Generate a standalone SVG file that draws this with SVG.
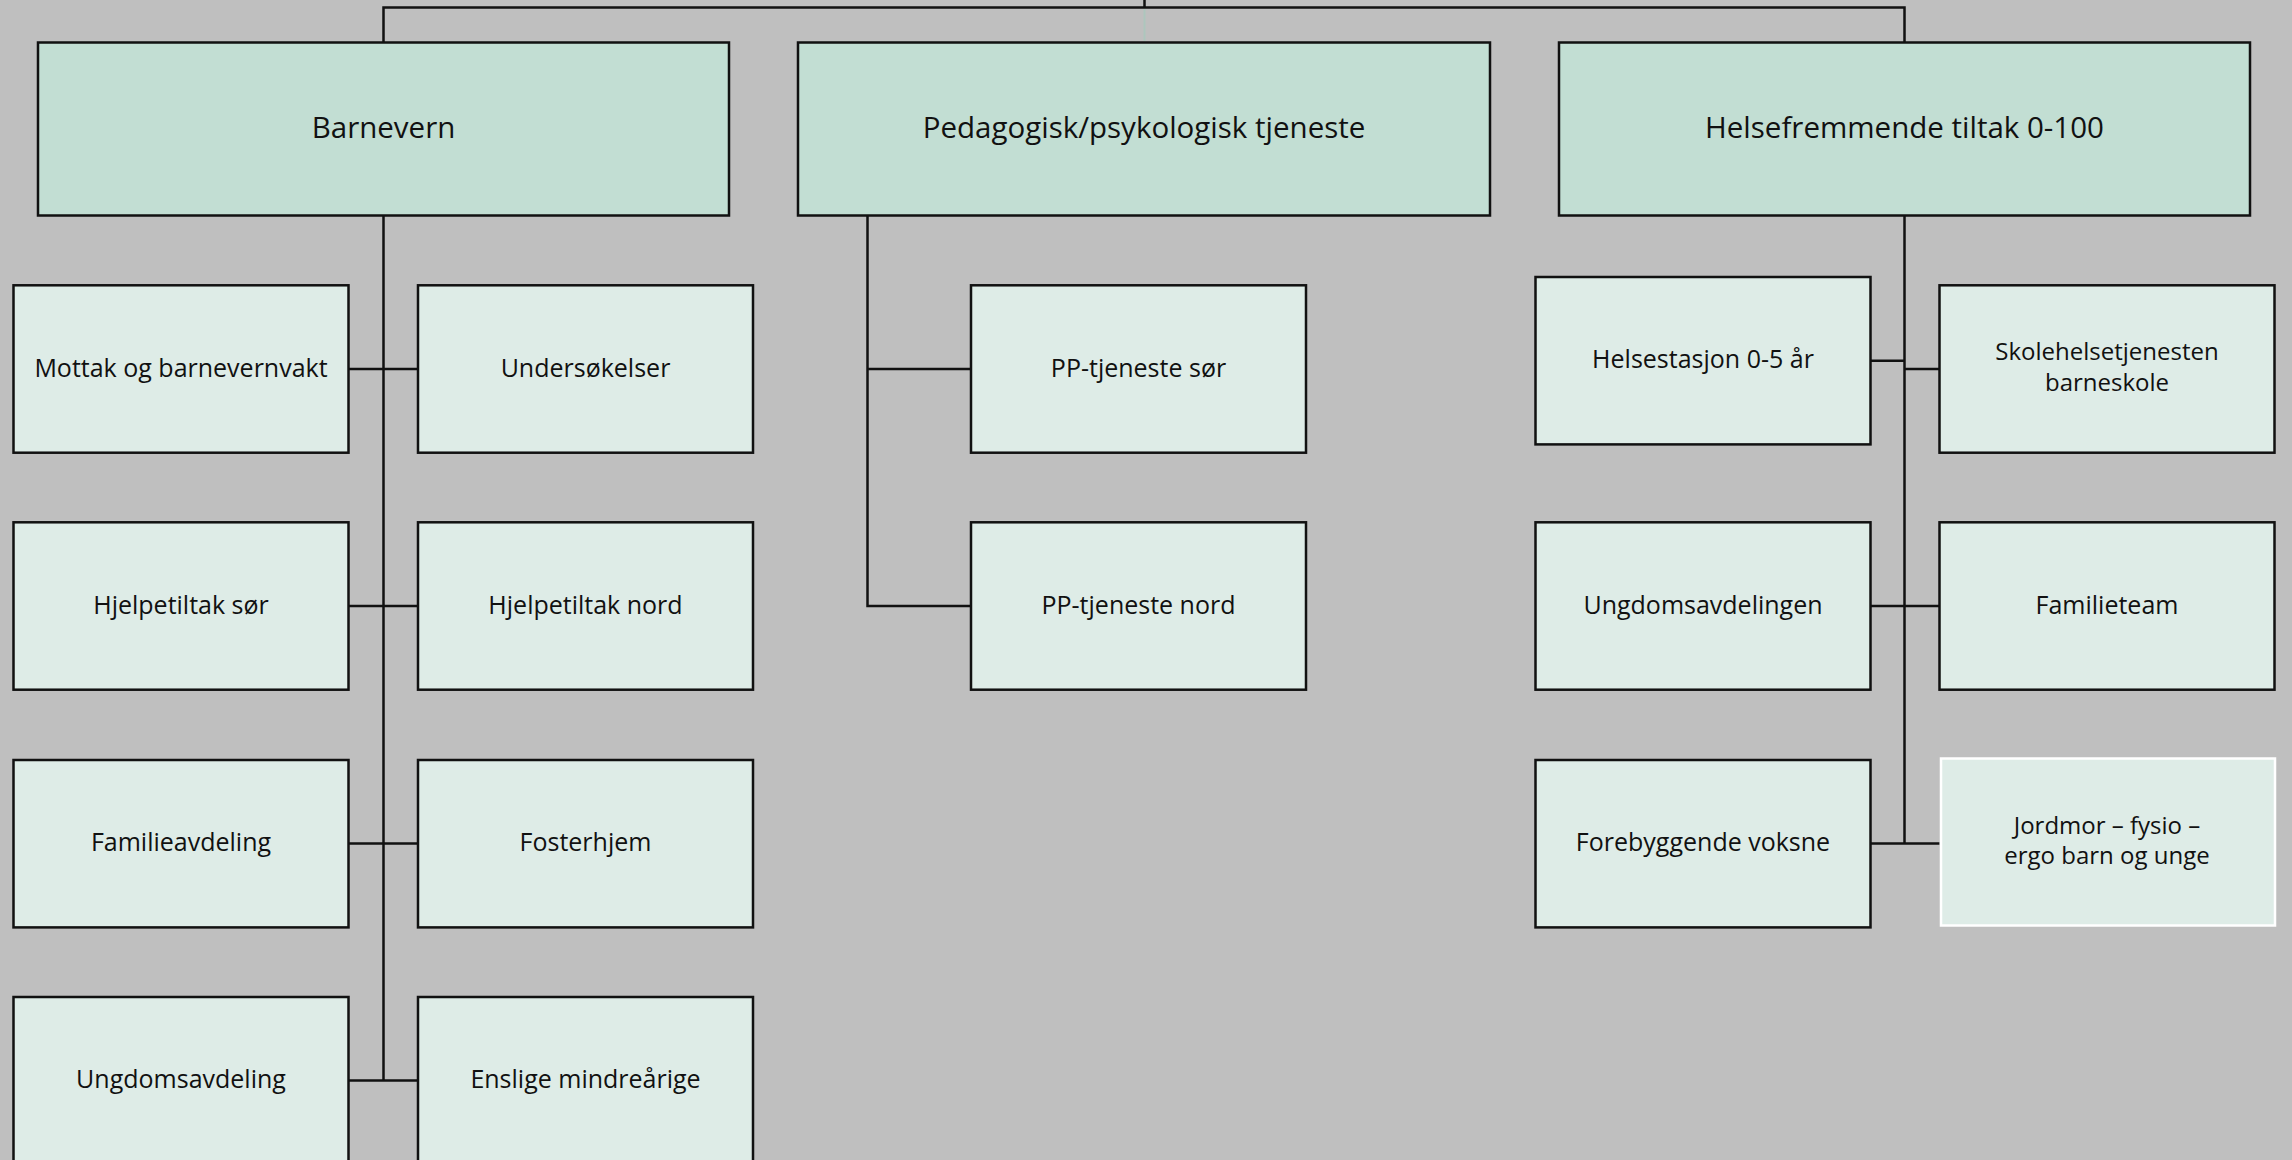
<svg xmlns="http://www.w3.org/2000/svg" width="2292" height="1160" viewBox="0 0 2292 1160">
<style>
.bg{fill:#bfbfbf}
.hd{fill:#c2ded3;stroke:#111;stroke-width:2.5}
.bx{fill:#deece7;stroke:#111;stroke-width:2.5}
.bxw{fill:#deece7;stroke:#ffffff;stroke-width:2.5}
.ln{fill:none;stroke:#111;stroke-width:2.5}
.faint{fill:none;stroke:#adc6bd;stroke-width:2}
text{font-family:"Open Sans","Noto Sans",sans-serif;fill:#111;text-anchor:middle}
.ht{font-size:29.5px}
.st{font-size:25px}
.st2{font-size:24px}
</style>
<rect class="bg" x="0" y="0" width="2292" height="1160"/>
<g id="connectors">
<path class="ln" d="M383.5 42.5 V7.5 H1904.5 V42.5"/>
<path class="ln" d="M1144.5 0 V7.5"/>
<path class="faint" d="M1144.5 9 V41"/>
<path class="ln" d="M383.5 215.5 V1080.5"/>
<path class="ln" d="M348.5 369 H418"/>
<path class="ln" d="M348.5 606 H418"/>
<path class="ln" d="M348.5 843.5 H418"/>
<path class="ln" d="M348.5 1080.5 H418"/>
<path class="ln" d="M867.5 215.5 V606 H971"/>
<path class="ln" d="M867.5 369 H971"/>
<path class="ln" d="M1904.5 215.5 V843.5"/>
<path class="ln" d="M1870.5 360.7 H1904.5"/>
<path class="ln" d="M1904.5 369 H1939.5"/>
<path class="ln" d="M1870.5 606 H1939.5"/>
<path class="ln" d="M1870.5 843.5 H1939.5"/>
</g>
<g id="barnevern"><rect class="hd" x="38" y="42.5" width="691" height="173"/><text class="ht" x="383.5" y="138">Barnevern</text></g>
<g id="ppt"><rect class="hd" x="798" y="42.5" width="692" height="173"/><text class="ht" x="1144" y="138">Pedagogisk/psykologisk tjeneste</text></g>
<g id="helse"><rect class="hd" x="1559" y="42.5" width="691" height="173"/><text class="ht" x="1904.5" y="138">Helsefremmende tiltak 0-100</text></g>

<g id="mottak"><rect class="bx" x="13.5" y="285.3" width="335" height="167.4"/><text class="st" x="181" y="376.5">Mottak og barnevernvakt</text></g>
<g id="undersokelser"><rect class="bx" x="418" y="285.3" width="335" height="167.4"/><text class="st" x="585.5" y="376.5">Undersøkelser</text></g>
<g id="hjelp-sor"><rect class="bx" x="13.5" y="522.3" width="335" height="167.4"/><text class="st" x="181" y="613.5">Hjelpetiltak sør</text></g>
<g id="hjelp-nord"><rect class="bx" x="418" y="522.3" width="335" height="167.4"/><text class="st" x="585.5" y="613.5">Hjelpetiltak nord</text></g>
<g id="familieavdeling"><rect class="bx" x="13.5" y="760" width="335" height="167.4"/><text class="st" x="181" y="851">Familieavdeling</text></g>
<g id="fosterhjem"><rect class="bx" x="418" y="760" width="335" height="167.4"/><text class="st" x="585.5" y="851">Fosterhjem</text></g>
<g id="ungdomsavdeling"><rect class="bx" x="13.5" y="997" width="335" height="167.4"/><text class="st" x="181" y="1088">Ungdomsavdeling</text></g>
<g id="enslige"><rect class="bx" x="418" y="997" width="335" height="167.4"/><text class="st" x="585.5" y="1088">Enslige mindreårige</text></g>

<g id="pp-sor"><rect class="bx" x="971" y="285.3" width="335" height="167.4"/><text class="st" x="1138.5" y="376.5">PP-tjeneste sør</text></g>
<g id="pp-nord"><rect class="bx" x="971" y="522.3" width="335" height="167.4"/><text class="st" x="1138.5" y="613.5">PP-tjeneste nord</text></g>

<g id="helsestasjon"><rect class="bx" x="1535.5" y="277" width="335" height="167.4"/><text class="st" x="1703" y="367.8">Helsestasjon 0-5 år</text></g>
<g id="skolehelse"><rect class="bx" x="1939.5" y="285.3" width="335" height="167.4"/><text class="st2" x="2107" y="360">Skolehelsetjenesten</text><text class="st2" x="2107" y="391">barneskole</text></g>
<g id="ungdomsavdelingen"><rect class="bx" x="1535.5" y="522.3" width="335" height="167.4"/><text class="st" x="1703" y="613.5">Ungdomsavdelingen</text></g>
<g id="familieteam"><rect class="bx" x="1939.5" y="522.3" width="335" height="167.4"/><text class="st" x="2107" y="613.5">Familieteam</text></g>
<g id="forebyggende"><rect class="bx" x="1535.5" y="760" width="335" height="167.4"/><text class="st" x="1703" y="851">Forebyggende voksne</text></g>
<g id="jordmor"><rect class="bxw" x="1941" y="758.5" width="334" height="167"/><text class="st2" x="2107" y="833.5">Jordmor – fysio –</text><text class="st2" x="2107" y="864">ergo barn og unge</text></g>
</svg>
